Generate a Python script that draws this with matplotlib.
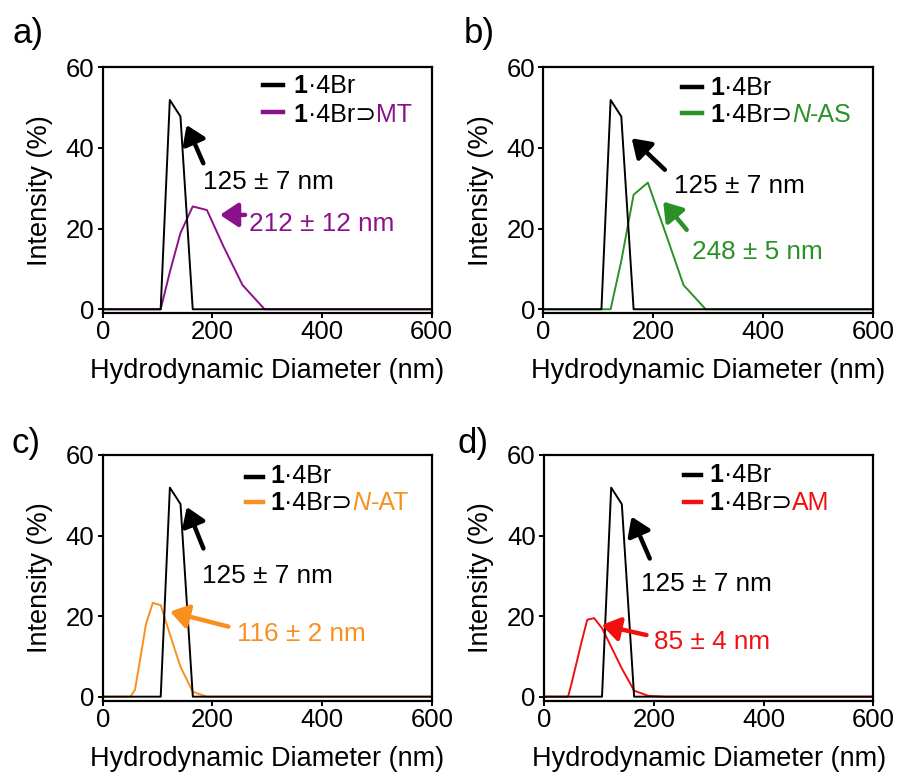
import matplotlib
matplotlib.use("Agg")
import matplotlib.pyplot as plt
import matplotlib.transforms as mtransforms
from matplotlib.lines import Line2D

plt.rcParams['font.family'] = ['Liberation Sans', 'DejaVu Sans']

# ---------------- data ----------------
sizes = [0.4, 37.84, 43.82, 50.75, 58.77, 68.06, 78.82, 91.28, 105.7, 122.4,
         141.8, 164.2, 190.1, 220.2, 255.0, 295.3, 342.0, 396.1, 458.7, 531.2, 615.1]
host = [0, 0, 0, 0, 0, 0, 0, 0, 0, 51.9, 47.8, 0, 0, 0, 0, 0, 0, 0, 0, 0, 0]
mt = [0, 0, 0, 0, 0, 0, 0, 0, 0, 9.2, 18.9, 25.5, 24.6, 15.6, 6.0, 0, 0, 0, 0, 0, 0]
nas = [0, 0, 0, 0, 0, 0, 0, 0, 0, 0, 12.0, 28.4, 31.4, 19.7, 6.0, 0, 0, 0, 0, 0, 0]
nat = [0, 0, 0, 0, 1.7, 9.1, 18.0, 23.3, 22.7, 15.5, 7.4, 1.2, 0, 0, 0, 0, 0, 0, 0, 0, 0]
am = [0, 0, 0, 3.6, 8.1, 13.4, 19.1, 19.5, 17.0, 12.4, 7.0, 1.5, 0.2, 0, 0, 0, 0, 0, 0, 0, 0]

guest_series = [mt, nas, nat, am]
guest_names = ["MT", "N-AS", "N-AT", "AM"]
guest_colors = ["#8B118B", "#2A9128", "#F7901E", "#F01010"]
guest_labels = ["212 ± 12 nm", "248 ± 5 nm", "116 ± 2 nm", "85 ± 4 nm"]
host_label = "125 ± 7 nm"
panel_letters = ["a)", "b)", "c)", "d)"]
x_ticks = [0, 200, 400, 600]
y_ticks = [0, 20, 40, 60]

# annotation placement (data coords): host arrow head, tail, text; guest arrow head, tail, text
host_arrow = [((153, 45.7), (183.5, 36.2), (183, 29.8)),
              ((160.7, 42.4), (221, 34.6), (237.6, 28.9)),
              ((153.2, 47.1), (183.5, 36.8), (180.5, 28.3)),
              ((159.5, 44.7), (192.7, 34.3), (177.6, 26.3))]
guest_arrow = [((214, 23.4), (259.6, 23.4), (267, 19.5)),
               ((218, 26.7), (260.7, 19.7), (271, 12.4)),
               ((122.7, 21.1), (229, 17.4), (244, 13.9)),
               ((105, 17.8), (186.7, 15.3), (200, 11.8))]
# legend placement (axes fraction): handle x0, x1, text x, line1 (handle y, baseline), line2 (handle y, baseline)
legend_pos = [(0.488, 0.549, 0.581, (0.928, 0.894), (0.820, 0.777)),
              (0.420, 0.481, 0.505, (0.921, 0.887), (0.814, 0.779)),
              (0.436, 0.488, 0.509, (0.912, 0.885), (0.810, 0.776)),
              (0.424, 0.478, 0.503, (0.919, 0.891), (0.810, 0.776))]

W, H = 898, 774
fig = plt.figure(figsize=(W / 100, H / 100), dpi=100)
fig.patch.set_facecolor("white")

axes_px = [(102.7, 67.3, 431.7, 313.3), (543.3, 67.3, 873.3, 313.3),
           (102.7, 455.0, 432.0, 700.7), (544.0, 455.0, 873.3, 700.7)]
letter_px = [(13, 43.3), (463.3, 42.7), (11.7, 453.3), (457.3, 453.3)]

renderer = fig.canvas.get_renderer()


def rich(ax, x, y, parts, size):
    t = ax.transAxes
    for s, props in parts:
        txt = ax.text(x, y, s, transform=t, va='baseline', ha='left', fontsize=size, **props)
        ext = txt.get_window_extent(renderer)
        t = mtransforms.offset_copy(t, x=ext.width, units='dots', fig=fig)


for i in range(4):
    l, t_, r, b = axes_px[i]
    ax = fig.add_axes([l / W, (H - b) / H, (r - l) / W, (b - t_) / H])
    c = guest_colors[i]
    ax.plot(sizes, guest_series[i], color=c, lw=1.4, zorder=2)
    ax.plot(sizes, host, color="black", lw=1.4, zorder=3)
    ax.set_xlim(0, 600)
    ax.set_ylim(-1, 60)
    ax.set_xticks(x_ticks)
    ax.set_yticks(y_ticks)
    for sp in ax.spines.values():
        sp.set_linewidth(1.6)
    ax.tick_params(direction='out', length=3.5, width=1.4, labelsize=18.5)
    ax.tick_params(axis='x', pad=1.5)
    ax.tick_params(axis='y', pad=2.5)
    ax.set_xlabel("Hydrodynamic Diameter (nm)", fontsize=19.5, labelpad=10)
    ax.set_ylabel("Intensity (%)", fontsize=19.5, labelpad=9)

    # arrows and labels
    hh, ht, htx = host_arrow[i]
    ax.annotate("", xy=hh, xytext=ht,
                arrowprops=dict(arrowstyle='-|>,head_length=0.6,head_width=0.4',
                                lw=3.2, color='black', shrinkA=0, shrinkB=0,
                                mutation_scale=18))
    ax.text(htx[0], htx[1], host_label, fontsize=18.8, color='black', va='baseline')
    gh, gt, gtx = guest_arrow[i]
    ax.annotate("", xy=gh, xytext=gt,
                arrowprops=dict(arrowstyle='-|>,head_length=0.6,head_width=0.4',
                                lw=3.2, color=c, shrinkA=0, shrinkB=0,
                                mutation_scale=18))
    ax.text(gtx[0], gtx[1], guest_labels[i], fontsize=18.8, color=c, va='baseline')

    # legend
    hx0, hx1, tx, (y1h, y1b), (y2h, y2b) = legend_pos[i]
    ax.add_line(Line2D([hx0, hx1], [y1h, y1h], transform=ax.transAxes, color='black', lw=3.2))
    ax.add_line(Line2D([hx0, hx1], [y2h, y2h], transform=ax.transAxes, color=c, lw=3.2))
    rich(ax, tx, y1b, [("1", dict(fontweight='bold')), ("·4Br", {})], 18)
    name = guest_names[i]
    parts = [("1", dict(fontweight='bold')), ("·4Br⊃", {})]
    if name.startswith("N-"):
        parts += [("N", dict(color=c, fontstyle='italic')), (name[1:], dict(color=c))]
    else:
        parts += [(name, dict(color=c))]
    rich(ax, tx, y2b, parts, 18)

    lx, ly = letter_px[i]
    fig.text(lx / W, (H - ly) / H, panel_letters[i], fontsize=25, va='baseline', ha='left')

fig.savefig("out.png", dpi=100, facecolor="white")
